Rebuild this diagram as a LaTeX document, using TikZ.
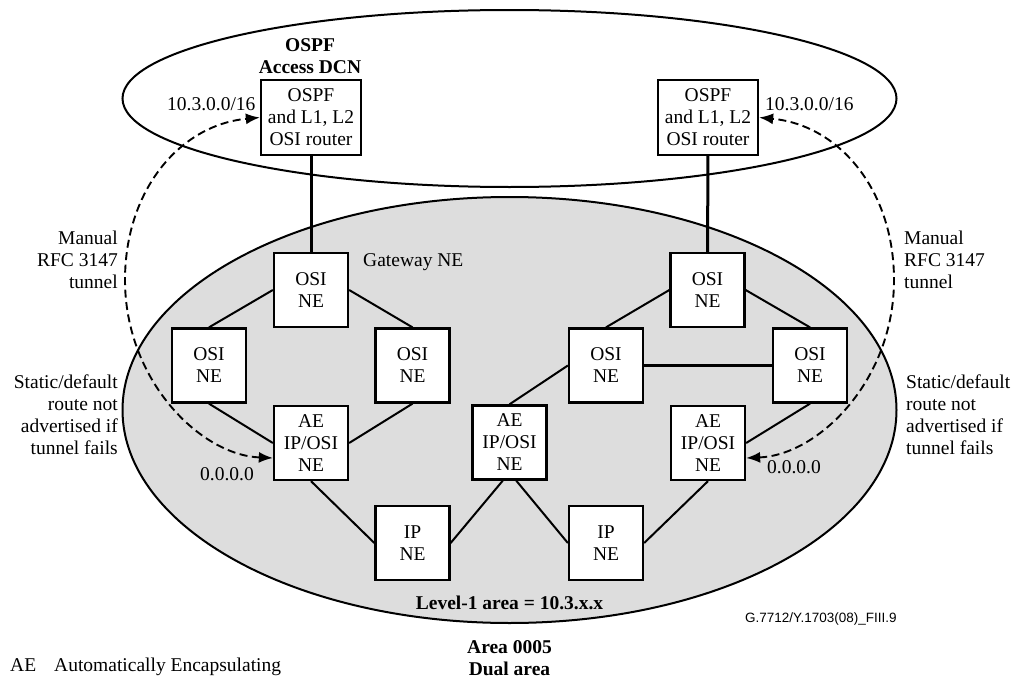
\documentclass[tikz,border=0pt]{standalone}
\usepackage{fontspec}
\setmainfont{Liberation Serif}
\newfontfamily\figsans{Liberation Sans}
\usetikzlibrary{arrows.meta,calc}
\definecolor{areagray}{RGB}{221,221,221}
\newcommand{\figfs}{\fontsize{19.5pt}{22pt}\selectfont}
\begin{document}
\begin{tikzpicture}[x=1pt,y=-1pt,
  box/.style={draw, line width=2.3pt, fill=white, align=center, inner sep=0pt,
              minimum width=74pt, minimum height=74pt, font=\figfs},
  routerbox/.style={box, minimum width=100pt, minimum height=75pt},
  link/.style={line width=2pt},
  thicklink/.style={line width=3pt},
  tunnel/.style={line width=1.9pt, dash pattern=on 8pt off 4.5pt,
                 {Latex[length=14pt,width=11pt]}-{Latex[length=14pt,width=11pt]}},
  lbl/.style={inner sep=0pt, font=\figfs},
  blbl/.style={inner sep=0pt, font=\figfs\bfseries, align=center}]
\useasboundingbox (0,0) rectangle (1013,680);
% areas
\draw[line width=2pt] (509.5,98.5) ellipse [x radius=387, y radius=88.5];
\draw[line width=2pt, fill=areagray] (509.5,410) ellipse [x radius=387, y radius=213];
% boxes
\node[routerbox] (rl) at (311,117.5) {OSPF\\and L1, L2\\OSI router};
\node[routerbox] (rr) at (708,117.5) {OSPF\\and L1, L2\\OSI router};
\node[box] (gl) at (311,290) {OSI\\NE};
\node[box] (oll) at (209,365.5) {OSI\\NE};
\node[box] (olr) at (412.5,365.5) {OSI\\NE};
\node[box] (ael) at (311,443) {AE\\IP/OSI\\NE};
\node[box] (ipl) at (412.5,543) {IP\\NE};
\node[box] (gr) at (707.5,290) {OSI\\NE};
\node[box] (orl) at (606,365.5) {OSI\\NE};
\node[box] (orr) at (810,365.5) {OSI\\NE};
\node[box] (aem) at (509.5,442.5) {AE\\IP/OSI\\NE};
\node[box] (aer) at (708,443) {AE\\IP/OSI\\NE};
\node[box] (ipr) at (606,543) {IP\\NE};
% links
\draw[thicklink] (rl) -- (gl);
\draw[thicklink] (rr) -- (gr);
\draw[link] (gl.west) -- (oll.north);
\draw[link] (gl.east) -- (olr.north);
\draw[link] (oll.south) -- (ael.west);
\draw[link] (olr.south) -- (ael.east);
\draw[link] (ael.south) -- (ipl.west);
\draw[link] (ipl.east) -- (aem.-100);
\draw[link] (aem.-80) -- (ipr.west);
\draw[link] (aem.north) -- (orl.west);
\draw[thicklink] (orl) -- (orr);
\draw[link] (gr.west) -- (orl.north);
\draw[link] (gr.east) -- (orr.north);
\draw[link] (orr.south) -- (aer.east);
\draw[link] (aer.south) -- (ipr.east);
% tunnels
\coordinate (lmid) at (125,280);
\coordinate (rmid) at (894,280);
\draw[tunnel] ($(ael.west)+(0,15)$) .. controls (200,455) and (125,380) .. (lmid)
   .. controls (125,190) and (180,125) .. (rl.west);
\draw[tunnel] ($(aer.east)+(0,15)$) .. controls (819,455) and (894,380) .. (rmid)
   .. controls (894,190) and (839,125) .. (rr.east);
% labels
\node[blbl] (title) at (310,56) {OSPF\\Access DCN};
\node[lbl, anchor=west] (pl) at (167,104) {10.3.0.0/16};
\node[lbl, anchor=west] (pr) at (765,104) {10.3.0.0/16};
\node[lbl, anchor=west] (gw) at (363,262) {Gateway NE};
\node[lbl, anchor=east, align=right] (mtl) at (118,260) {Manual\\RFC 3147\\tunnel};
\node[lbl, anchor=west, align=left] (mtr) at (904,260) {Manual\\RFC 3147\\tunnel};
\node[lbl, anchor=east, align=right] (sdl) at (118,415) {Static/default\\route not\\advertised if\\tunnel fails};
\node[lbl, anchor=west, align=left] (sdr) at (906,415) {Static/default\\route not\\advertised if\\tunnel fails};
\node[lbl, anchor=west] (zl) at (200,474) {0.0.0.0};
\node[lbl, anchor=west] (zr) at (767,467) {0.0.0.0};
\node[blbl] (lvl) at (509.5,603) {Level-1 area = 10.3.x.x};
\node[blbl] (area) at (509.5,658.5) {Area 0005\\Dual area};
\node[inner sep=0pt, anchor=west, font=\figsans\fontsize{13.5pt}{15pt}\selectfont] (fig) at (745,619) {G.7712/Y.1703(08)\_FIII.9};
\node[lbl, anchor=west] (ae) at (10,667) {AE\hspace{18pt}Automatically Encapsulating};
\end{tikzpicture}
\end{document}
